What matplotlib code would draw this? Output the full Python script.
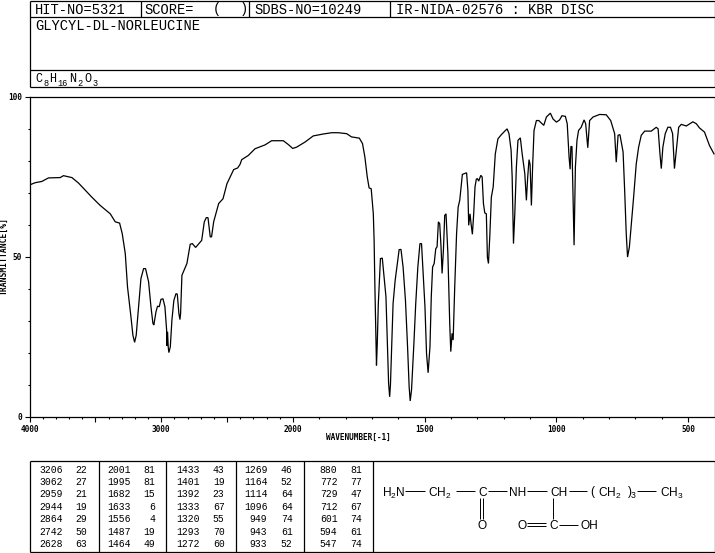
#IR spectrum sheet for glycyl-dl-norleucine
import numpy as np
import matplotlib
matplotlib.use('Agg')
import matplotlib.pyplot as plt

plt.rcParams['mathtext.default'] = 'regular'
plt.rcParams['mathtext.fontset'] = 'custom'
plt.rcParams['mathtext.rm'] = 'Liberation Sans'

#spectrum
wavenumber = [4000,3957,3906,3856,3767,3742,3678,3628,3527,3463,3387,3349,3316,3296,3273,3256,3230,3215,3202,3190,
              3172,3154,3134,3119,3096,3078,3063,3056,3040,3028,3015,3002,2987,2972,2959,2957,2952,2947,2942,2931,
              2919,2904,2888,2878,2866,2858,2853,2843,2805,2780,2764,2739,2693,2673,2658,2645,2628,2618,2602,2564,
              2531,2501,2450,2420,2402,2389,2339,2288,2212,2162,2073,2035,2002,1986,1954,1923,1885,1853,1828,1796,
              1778,1748,1736,1727,1718,1711,1703,1695,1692,1689,1685,1683,1680,1676,1673,1668,1661,1654,1647,1644,
              1637,1633,1630,1625,1620,1612,1604,1597,1590,1582,1573,1565,1559,1555,1550,1541,1534,1526,1518,1512,
              1506,1499,1493,1487,1480,1475,1470,1464,1458,1453,1448,1443,1438,1434,1429,1424,1419,1412,1407,1405,
              1401,1396,1392,1386,1379,1373,1367,1357,1341,1336,1333,1328,1324,1319,1314,1309,1304,1300,1295,1287,
              1282,1277,1272,1266,1262,1258,1253,1247,1240,1232,1222,1209,1196,1187,1180,1172,1168,1163,1158,1152,
              1146,1137,1130,1120,1114,1109,1104,1100,1095,1090,1085,1076,1067,1048,1038,1023,1013,1000,988,979,
              966,959,952,948,945,941,937,933,928,922,916,906,895,889,881,874,861,836,811,794,
              779,773,766,759,747,741,735,730,723,716,707,697,688,678,665,640,621,614,607,602,
              596,587,577,567,559,552,545,536,526,507,482,469,457,438,419,402]
transmittance = [72.4,73.1,73.5,74.6,74.7,75.3,74.7,73.0,68.6,66.0,63.4,60.9,60.5,57.2,51.0,40.6,31.3,25.5,23.3,25.5,
                 34.4,43.2,46.3,46.3,42.2,34.4,29.2,28.7,32.8,34.6,34.4,36.7,36.9,34.4,27.1,22.2,26.6,21.9,20.1,21.9,
                 30.2,36.4,38.5,38.3,32.3,30.4,32.3,44.2,47.9,53.9,54.1,52.9,55.1,60.9,62.2,62.2,56.2,56.2,60.9,66.6,
                 68.1,72.8,77.2,77.7,78.8,80.3,81.6,83.7,84.9,86.2,86.2,85.0,83.8,84.2,85.8,87.7,88.3,88.7,88.7,88.4,
                 87.4,87.0,85.3,81.1,74.9,71.5,71.2,63.4,55.1,40.6,24.0,16.1,22.9,35.4,40.6,49.4,49.6,43.7,37.5,29.2,
                 10.5,6.3,10.0,22.9,35.4,42.7,47.9,52.2,52.3,46.8,36.4,21.9,9.4,5.0,8.4,22.9,35.4,46.8,54.1,54.1,
                 44.8,34.4,19.8,13.8,21.9,37.5,46.8,47.9,52.5,53.1,60.9,60.3,53.1,44.8,52.0,62.9,63.4,51.0,35.4,29.2,
                 20.4,26.1,24.0,40.6,57.2,65.5,67.6,75.7,76.2,70.7,59.8,63.4,60.3,57.0,63.4,71.8,74.2,74.4,73.6,75.4,
                 74.9,66.6,63.7,63.4,49.9,47.9,56.2,68.6,71.8,82.1,86.8,88.1,89.2,89.9,88.4,83.2,74.9,54.1,63.4,78.0,
                 86.3,87.1,82.1,75.9,67.6,74.9,80.3,78.8,66.0,79.0,89.4,92.5,92.5,91.0,93.6,94.8,93.0,92.0,92.7,94.0,
                 93.8,91.5,81.1,77.3,84.4,84.4,68.6,53.6,78.0,86.3,89.4,90.4,92.7,91.5,84.0,92.5,93.6,94.4,94.3,92.5,
                 88.4,79.5,87.9,88.1,82.7,70.7,57.2,49.9,53.1,59.8,68.6,79.0,84.2,87.9,89.2,89.2,90.4,89.9,82.1,77.5,
                 84.2,88.4,90.4,90.4,88.4,77.5,83.2,90.4,91.3,90.8,92.1,91.5,90.2,88.9,84.7,82.1]

#peak table, one pair of lists per column
peak_wn_1 = [3206,3062,2959,2944,2864,2742,2628]
peak_t_1 = [22,27,21,19,29,50,63]
peak_wn_2 = [2001,1995,1682,1633,1556,1487,1464]
peak_t_2 = [81,81,15,6,4,19,49]
peak_wn_3 = [1433,1401,1392,1333,1320,1293,1272]
peak_t_3 = [43,19,23,67,55,70,60]
peak_wn_4 = [1269,1164,1114,1096,949,943,933]
peak_t_4 = [46,52,64,64,74,61,52]
peak_wn_5 = [880,772,729,712,601,594,547]
peak_t_5 = [81,77,47,67,74,61,74]

x_labels = {4000:'4000', 3000:'3000', 2000:'2000', 1500:'1500', 1000:'1000', 500:'500'}
y_labels = {0:'0', 50:'50', 100:'100'}

mono = 'DejaVu Sans Mono'
thin = 'Liberation Mono'
W, H = 715, 553

fig = plt.figure(figsize=(W/100, H/100), dpi=100)

#the axis is compressed by two above 2000 cm-1
def forward(v):
    v = np.asarray(v, dtype=float)
    return np.where(v > 2000, 2000 + (v-2000)/2, v)

def inverse(u):
    u = np.asarray(u, dtype=float)
    return np.where(u > 2000, 2000 + (u-2000)*2, u)

ax = fig.add_axes([29.5/W, (H-417)/H, 685/W, 320.5/H])
ax.set_xscale('function', functions=(forward, inverse))
ax.plot(wavenumber, transmittance, color='black', lw=0.9, solid_joinstyle='miter')
ax.set_xlim(4000, 400)
ax.set_ylim(0, 100)
for s in ax.spines.values():
    s.set_linewidth(0.9)

ax.set_xticks(list(range(4000, 400, -500)))
ax.set_xticklabels([x_labels.get(t, '') for t in range(4000, 400, -500)],
                   fontfamily=mono, fontsize=5.6, fontweight='bold')
ax.set_xticks(list(range(4000, 400, -100)), minor=True)
ax.set_yticks([0, 50, 100])
ax.set_yticklabels([y_labels[t] for t in [0, 50, 100]], fontfamily=mono, fontsize=5.6, fontweight='bold')
ax.set_yticks(list(range(0, 101, 10)), minor=True)
ax.tick_params(which='major', length=3.6, width=0.8, pad=2)
ax.tick_params(which='minor', length=1.5, width=0.8)

#pixel overlay for the boxes, labels and the structure
ov = fig.add_axes([0, 0, 1, 1])
ov.set_xlim(0, W)
ov.set_ylim(H, 0)
ov.axis('off')
ov.patch.set_alpha(0)

def line(x0, y0, x1, y1, lw=0.9):
    ov.plot([x0, x1], [y0, y1], color='black', lw=lw, solid_capstyle='butt')

#header box
for y in [0.5, 17, 69.5, 87]:
    line(29.5, y, 714.5, y)
for x in [29.5, 714.5]:
    line(x, 0.5, x, 87)
for x in [140.5, 248.5, 390]:
    line(x, 0.5, x, 17)

def head(x, y, s, size=9.9):
    ov.text(x, y, s, family=thin, fontsize=size, va='center', ha='left', color='black')

head(35, 9.5, 'HIT-NO=5321')
head(144, 9.5, 'SCORE=')
head(213, 9.5, '(')
head(240, 9.5, ')')
head(254, 9.5, 'SDBS-NO=10249')
head(396.5, 9.5, 'IR-NIDA-02576 : KBR DISC')
head(35, 26.5, 'GLYCYL-DL-NORLEUCINE')

#formula, subscripts set by hand
head(35, 79.5, 'C', 8.5)
head(43, 83, '8', 6.2)
head(49, 79.5, 'H', 8.5)
head(57, 83, '16', 6.2)
head(69.5, 79.5, 'N', 8.5)
head(77.5, 83, '2', 6.2)
head(84, 79.5, 'O', 8.5)
head(93, 83, '3', 6.2)

ov.text(358, 437, 'WAVENUMBER[-1]', family=mono, fontsize=5.6, fontweight='bold', ha='center', va='center')
ov.text(4.5, 256, 'TRANSMITTANCE[%]', family=mono, fontsize=5.8, fontweight='bold',
        rotation=90, ha='center', va='center')

#peak table
for x in [29.5, 98.5, 166, 235.5, 303.5, 372.5, 714.5]:
    line(x, 460.5, x, 552)
for y in [460.5, 552]:
    line(29.5, y, 714.5, y)

row_y = [469.7, 481.9, 494.3, 506.7, 519.2, 531.6, 544]
cols = [(peak_wn_1, peak_t_1, 62.5, 87), (peak_wn_2, peak_t_2, 130.5, 155.5), (peak_wn_3, peak_t_3, 199.5, 224.5),
        (peak_wn_4, peak_t_4, 267.5, 292.5), (peak_wn_5, peak_t_5, 337.5, 362)]
for wn, t, xa, xb in cols:
    for i in range(7):
        ov.text(xa, row_y[i], str(wn[i]), family=thin, fontsize=7, ha='right', va='center')
        ov.text(xb, row_y[i], str(t[i]), family=thin, fontsize=7, ha='right', va='center')

#structure
def chem(x, y, s, ha='left'):
    ov.text(x, y, s, family='Liberation Sans', fontsize=8.6, ha=ha, va='center_baseline')

chem(382, 491, 'H$_2$N')
line(405, 491, 425, 491, 0.7)
chem(427.5, 491, 'CH$_2$')
line(456, 491, 475, 491, 0.7)
chem(482.5, 491, 'C', 'center')
line(487.5, 491, 506.5, 491, 0.7)
chem(509, 491, 'NH')
line(526.5, 491, 546.5, 491, 0.7)
chem(550, 491, 'CH')
line(568.5, 491, 586.5, 491, 0.7)
chem(590, 491, '(')
chem(597.5, 491, 'CH$_2$')
chem(627.5, 491, ')')
ov.text(630.5, 495, '3', family='Liberation Sans', fontsize=6.2, ha='left', va='center_baseline')
line(637, 491, 655.5, 491, 0.7)
chem(660, 491, 'CH$_3$')
line(479.5, 497.5, 479.5, 518.5, 0.7)
line(482.5, 497.5, 482.5, 518.5, 0.7)
chem(482.5, 524.5, 'O', 'center')
line(552.5, 498, 552.5, 518.5, 0.7)
chem(522.5, 524.5, 'O', 'center')
line(527, 523, 546, 523, 0.7)
line(527, 526, 546, 526, 0.7)
chem(553.5, 524.5, 'C', 'center')
line(558.5, 524.5, 577.5, 524.5, 0.7)
chem(580.5, 524.5, 'OH')

fig.savefig('out.png', dpi=100)
